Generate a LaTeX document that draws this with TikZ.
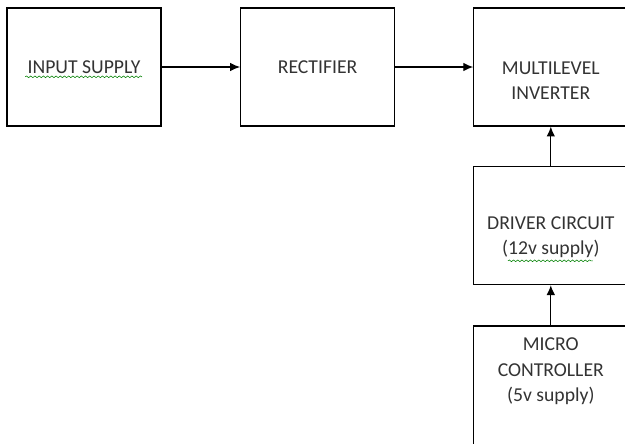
\documentclass[tikz,border=0pt]{standalone}
\usepackage{fontspec}
\setmainfont{Carlito}
\usetikzlibrary{arrows.meta,decorations.pathmorphing}

\begin{document}
\begin{tikzpicture}[
    >={Latex[length=7pt,width=6pt]},
    block/.style={draw, line width=0.8pt, minimum width=3.85cm, minimum height=2.95cm, inner sep=0pt},
    txt/.style={align=center, text=black!80, font=\fontsize{14}{17.8}\selectfont},
    squiggle/.style={draw=green!50!black, line width=0.4pt, decorate, decoration={snake, amplitude=0.6pt, segment length=3pt}}
  ]
  \useasboundingbox (0,0) rectangle (15.625,-11.075);
  % boxes
  \node [block] (input) at (2.1,-1.675) {};
  \node [block] (rect) at (7.94,-1.675) {};
  \node [block] (multi) at (13.77,-1.675) {};
  \node [block] (driver) at (13.77,-5.64) {};
  \node [block, minimum height=3.1cm] (micro) at (13.77,-9.7) {};
  % texts
  \node [txt] (inputtxt) at (input) {INPUT SUPPLY};
  \node [txt] (recttxt) at (rect) {RECTIFIER};
  \node [txt] (multitxt) at ([yshift=-0.33cm]multi.center) {MULTILEVEL\\INVERTER};
  \node [txt] (drivertxt) at ([yshift=-0.3cm]driver.center) {DRIVER CIRCUIT\\(12v supply)};
  \node [txt] (microtxt) at ([yshift=0.42cm]micro.center) {MICRO\\CONTROLLER\\(5v supply)};
  \draw [squiggle] (0.63,-1.92) -- (3.55,-1.92);
  \draw [squiggle] (12.7,-6.52) -- (14.82,-6.52);
  % arrows
  \draw [->, line width=0.8pt] (input) -- (rect);
  \draw [->, line width=0.8pt] (rect) -- (multi);
  \draw [->, line width=0.8pt] (driver) -- (multi);
  \draw [->, line width=0.8pt] (micro) -- (driver);
\end{tikzpicture}
\end{document}
